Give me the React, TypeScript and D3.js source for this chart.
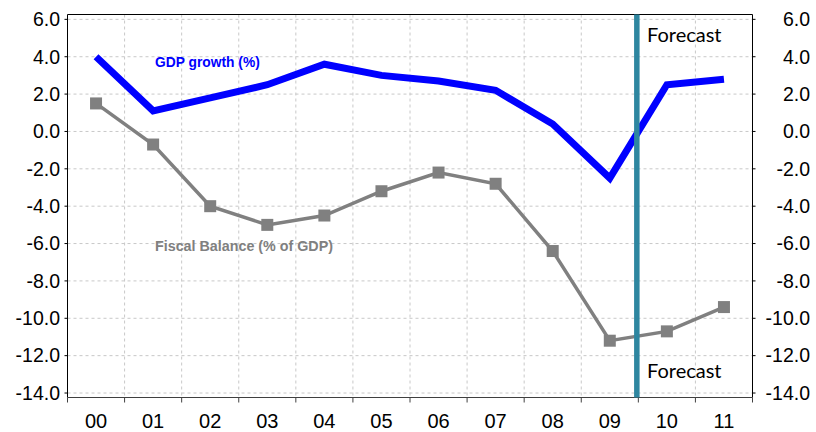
import React from "react";
import * as d3 from "d3";

const years = ["00", "01", "02", "03", "04", "05", "06", "07", "08", "09", "10", "11"];
const gdpGrowth = [4.0, 1.1, 1.8, 2.5, 3.6, 3.0, 2.7, 2.2, 0.4, -2.5, 2.5, 2.8];
const fiscalBalance = [1.5, -0.7, -4.0, -5.0, -4.5, -3.2, -2.2, -2.8, -6.4, -11.2, -10.7, -9.4];
const yTicks = [6, 4, 2, 0, -2, -4, -6, -8, -10, -12, -14];
const forecastStartIndex = 10;

const W = 816;
const H = 432;
const left = 67.5;
const right = 752.5;
const top = 14.5;
const bottom = 397.5;

export default function App() {
  const x = d3.scaleBand<string>().domain(years).range([left, right]).padding(0);
  const y = d3.scaleLinear().domain([-14.24, 6.26]).range([bottom, top]);
  const cx = (i: number) => (x(years[i]) as number) + x.bandwidth() / 2;

  const lineGen = d3
    .line<number>()
    .x((_, i) => cx(i))
    .y((d) => y(d));

  const boundaries = years.map((yr) => x(yr) as number).concat([right]);
  const forecastX = (x(years[forecastStartIndex]) as number) - 1.5;
  const font = "Liberation Sans, Arial, sans-serif";

  return (
    <svg width={W} height={H} style={{ position: "absolute", left: 0, top: 0 }}>
      <rect x={0} y={0} width={W} height={H} fill="#fff" />
      {/* horizontal grid */}
      {yTicks.map((t) => (
        <line key={"hg" + t} x1={left} x2={right} y1={y(t)} y2={y(t)} stroke="#c8c8c8" strokeDasharray="3,3" strokeWidth={1} />
      ))}
      {/* vertical grid */}
      {boundaries.slice(1, -1).map((bx, i) => (
        <line key={"vg" + i} x1={bx} x2={bx} y1={top} y2={bottom} stroke="#c8c8c8" strokeDasharray="3,3" strokeWidth={1} />
      ))}
      {/* frame */}
      <line x1={left} x2={right} y1={top} y2={top} stroke="#000" strokeWidth={1} />
      <line x1={left} x2={left} y1={top} y2={bottom} stroke="#000" strokeWidth={1} />
      <line x1={right} x2={right} y1={top} y2={bottom} stroke="#000" strokeWidth={1} />
      <line x1={left} x2={right} y1={bottom} y2={bottom} stroke="#404040" strokeWidth={1.2} />
      {/* y ticks & labels */}
      {yTicks.map((t) => (
        <g key={"yt" + t}>
          <line x1={left - 3} x2={left} y1={y(t)} y2={y(t)} stroke="#000" />
          <line x1={right} x2={right + 3} y1={y(t)} y2={y(t)} stroke="#000" />
          <text x={60} y={y(t)} dy="0.35em" textAnchor="end" fontFamily={font} fontSize={19.5} fill="#000">
            {t.toFixed(1)}
          </text>
          <text x={810} y={y(t)} dy="0.35em" textAnchor="end" fontFamily={font} fontSize={19.5} fill="#000">
            {t.toFixed(1)}
          </text>
        </g>
      ))}
      {/* x ticks & labels */}
      {boundaries.map((bx, i) => (
        <line key={"xt" + i} x1={bx} x2={bx} y1={bottom} y2={bottom + 5} stroke="#404040" />
      ))}
      {years.map((yr, i) => (
        <text key={"xl" + yr} x={cx(i)} y={428} textAnchor="middle" fontFamily={font} fontSize={20} fill="#000">
          {yr}
        </text>
      ))}
      {/* fiscal balance */}
      <path d={lineGen(fiscalBalance) || ""} fill="none" stroke="#808080" strokeWidth={3.5} strokeLinejoin="miter" />
      {fiscalBalance.map((v, i) => (
        <rect key={"fb" + i} x={cx(i) - 6} y={y(v) - 6} width={12} height={12} fill="#808080" />
      ))}
      {/* GDP growth */}
      <path d={lineGen(gdpGrowth) || ""} fill="none" stroke="#0000ff" strokeWidth={7} strokeLinejoin="miter" />
      {/* forecast line */}
      <line x1={forecastX} x2={forecastX} y1={top} y2={bottom} stroke="#2e86a0" strokeWidth={5.5} />
      <text x={647} y={42} fontFamily="Lato, Open Sans, sans-serif" fontSize={20} fill="#000">Forecast</text>
      <text x={647} y={378} fontFamily="Lato, Open Sans, sans-serif" fontSize={20} fill="#000">Forecast</text>
      {/* series labels */}
      <text x={155} y={67} fontFamily={font} fontSize={13.8} fontWeight="bold" fill="#0000ff">GDP growth (%)</text>
      <text x={155} y={251} fontFamily={font} fontSize={14.3} fontWeight="bold" fill="#808080">Fiscal Balance (% of GDP)</text>
    </svg>
  );
}
